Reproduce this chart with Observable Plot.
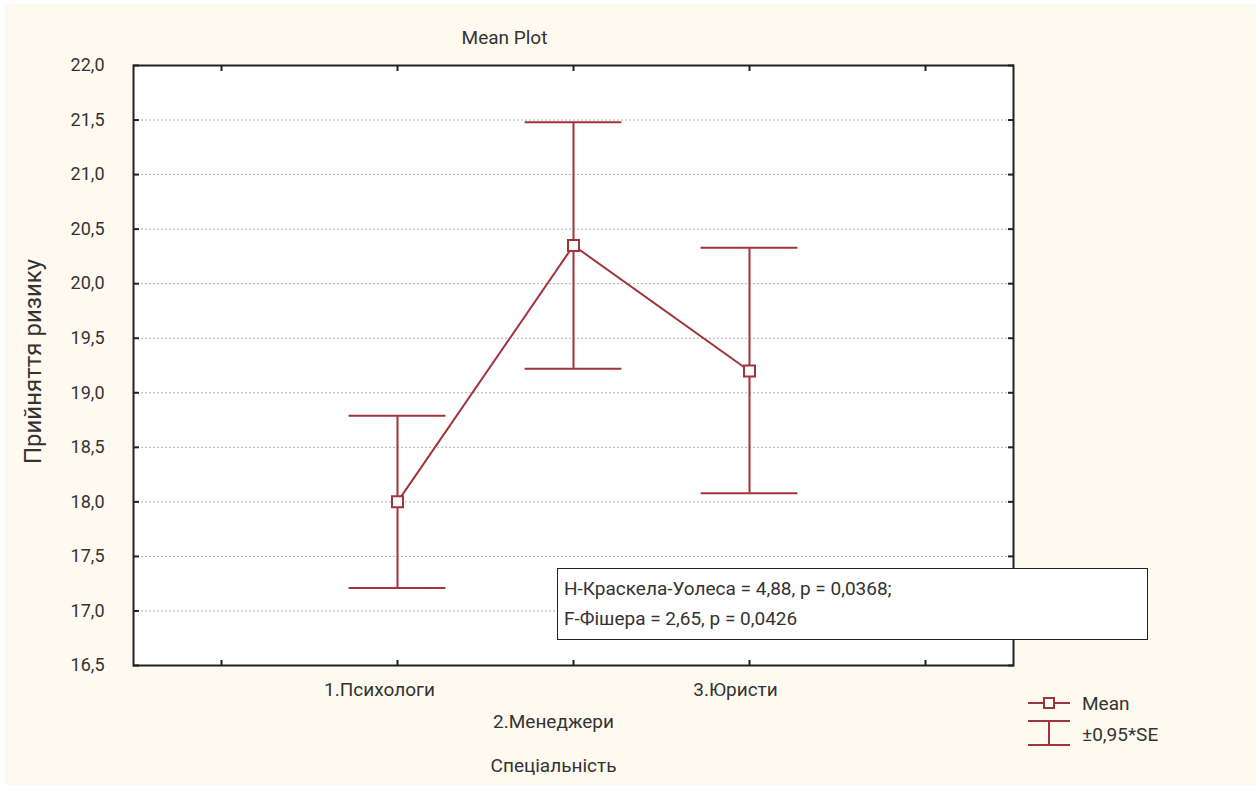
<!DOCTYPE html>
<html>
<head>
<meta charset="utf-8">
<script src="https://cdn.jsdelivr.net/npm/d3@7"></script>
<script src="https://cdn.jsdelivr.net/npm/@observablehq/plot@0.6"></script>
<style>
  html, body { margin: 0; padding: 0; background: #ffffff; }
  #wrap { position: relative; width: 1259px; height: 787px; overflow: hidden;
          font-family: Roboto, "Noto Sans", sans-serif; color: #333; }
  #paper { position: absolute; left: 5px; top: 4px; width: 1251px; height: 781px; background: #fffaef; }
  #chart { position: absolute; left: 0; top: 0; }
  #note { position: absolute; left: 557px; top: 568px; width: 591px; height: 72px;
          background: #fff; border: 1.5px solid #222; font-size: 19px; line-height: 30px;
          padding: 5px 0 0 6px; box-sizing: border-box; color: #333; white-space: nowrap; }
  #legend { position: absolute; left: 1020px; top: 690px; }
</style>
</head>
<body>
<div id="wrap">
  <div id="paper"></div>
  <div id="chart"></div>
  <div id="note"></div>
  <svg id="legend" width="220" height="70"></svg>
</div>
<script>
// Group labels, means and the ±0.95·SE bounds
const categories = ["1.Психологи", "2.Менеджери", "3.Юристи"];
const means = [18.0, 20.35, 19.2];
const lower = [17.21, 19.22, 18.08];
const upper = [18.79, 21.48, 20.33];
const yTicks = [16.5, 17.0, 17.5, 18.0, 18.5, 19.0, 19.5, 20.0, 20.5, 21.0, 21.5, 22.0];
const xTicks = [0, 1, 2, 3, 4];
const title = "Mean Plot";
const xLabel = "Спеціальність";
const yLabel = "Прийняття ризику";
const noteLines = ["H-Краскела-Уолеса = 4,88, p = 0,0368;", "F-Фішера = 2,65, p = 0,0426"];
const legendItems = ["Mean", "±0,95*SE"];

const red = "#a1333a";
const capHalf = 0.275; // half-width of the error bar caps, in category units

const rows = categories.map((c, i) => ({pos: i + 1, label: c, mean: means[i], lo: lower[i], hi: upper[i]}));
const fmt = d => d3.format(".1f")(d).replace(".", ",");
const font = "Roboto, 'Noto Sans', sans-serif";

const plot = Plot.plot({
  width: 1259,
  height: 787,
  marginLeft: 133,
  marginRight: 246,
  marginTop: 65,
  marginBottom: 122,
  x: {domain: [-0.5, 4.5]},
  y: {domain: [16.5, 22]},
  style: {background: "transparent", fontFamily: font, fontSize: "18px", color: "#333", overflow: "visible"},
  marks: [
    Plot.frame({fill: "white", stroke: null}),
    Plot.gridY({ticks: yTicks.slice(1, -1), stroke: "#b0b0b0", strokeOpacity: 1, strokeDasharray: "2,2"}),
    // inward tick marks on all four sides
    Plot.axisY({anchor: "left", ticks: yTicks, tickSize: -6, tickFormat: () => "", stroke: "#222", strokeWidth: 2}),
    Plot.axisY({anchor: "right", ticks: yTicks, tickSize: -6, tickFormat: () => "", stroke: "#222", strokeWidth: 2}),
    Plot.axisX({anchor: "bottom", ticks: xTicks, tickSize: -5, tickFormat: () => "", stroke: "#222", strokeWidth: 2, label: null}),
    Plot.axisX({anchor: "top", ticks: xTicks, tickSize: -5, tickFormat: () => "", stroke: "#222", strokeWidth: 2, label: null}),
    // tick labels
    Plot.axisY({anchor: "left", ticks: yTicks, tickSize: 0, tickPadding: 29, tickFormat: fmt, fill: "#333", fontSize: 18, label: null}),
    Plot.axisX({anchor: "bottom", ticks: [1], tickSize: 0, tickPadding: 17, dx: -18, tickFormat: d => categories[d - 1], fill: "#333", fontSize: 19, label: null}),
    Plot.axisX({anchor: "bottom", ticks: [3], tickSize: 0, tickPadding: 17, dx: -14, tickFormat: d => categories[d - 1], fill: "#333", fontSize: 19, label: null}),
    Plot.axisX({anchor: "bottom", ticks: [2], tickSize: 0, tickPadding: 49, dx: -20, tickFormat: d => categories[d - 1], fill: "#333", fontSize: 19, label: null}),
    Plot.text([xLabel], {frameAnchor: "bottom", dx: -20, dy: 106, text: d => d, fill: "#333", fontSize: 19}),
    Plot.text([title], {frameAnchor: "top", dx: -69, dy: -35, text: d => d, fill: "#333", fontSize: 19}),
    Plot.text([yLabel], {frameAnchor: "left", textAnchor: "middle", dx: -100, dy: -4, rotate: -90, text: d => d, fill: "#333", fontSize: 24}),
    // error bars
    Plot.ruleX(rows, {x: "pos", y1: "lo", y2: "hi", stroke: red, strokeWidth: 2}),
    Plot.ruleY(rows, {y: "hi", x1: d => d.pos - capHalf, x2: d => d.pos + capHalf, stroke: red, strokeWidth: 2}),
    Plot.ruleY(rows, {y: "lo", x1: d => d.pos - capHalf, x2: d => d.pos + capHalf, stroke: red, strokeWidth: 2}),
    // means
    Plot.line(rows, {x: "pos", y: "mean", stroke: red, strokeWidth: 2}),
    Plot.dot(rows, {x: "pos", y: "mean", symbol: "square", r: 6.2, fill: "white", stroke: red, strokeWidth: 2}),
    Plot.frame({stroke: "#222", strokeWidth: 2})
  ]
});
document.getElementById("chart").appendChild(plot);

// statistics box
const note = d3.select("#note");
noteLines.forEach(t => note.append("div").text(t));

// legend
const lg = d3.select("#legend");
lg.append("line").attr("x1", 8).attr("x2", 50).attr("y1", 13).attr("y2", 13).attr("stroke", red).attr("stroke-width", 2);
lg.append("rect").attr("x", 24).attr("y", 8).attr("width", 10).attr("height", 10).attr("fill", "white").attr("stroke", red).attr("stroke-width", 2);
lg.append("line").attr("x1", 8).attr("x2", 50).attr("y1", 31).attr("y2", 31).attr("stroke", red).attr("stroke-width", 2);
lg.append("line").attr("x1", 29).attr("x2", 29).attr("y1", 31).attr("y2", 55).attr("stroke", red).attr("stroke-width", 2);
lg.append("line").attr("x1", 8).attr("x2", 50).attr("y1", 55).attr("y2", 55).attr("stroke", red).attr("stroke-width", 2);
lg.selectAll("text.l").data(legendItems).join("text")
  .attr("x", 62).attr("y", (d, i) => i === 0 ? 20 : 51)
  .attr("font-size", 19).attr("fill", "#333")
  .style("font-family", font)
  .text(d => d);
</script>
</body>
</html>
